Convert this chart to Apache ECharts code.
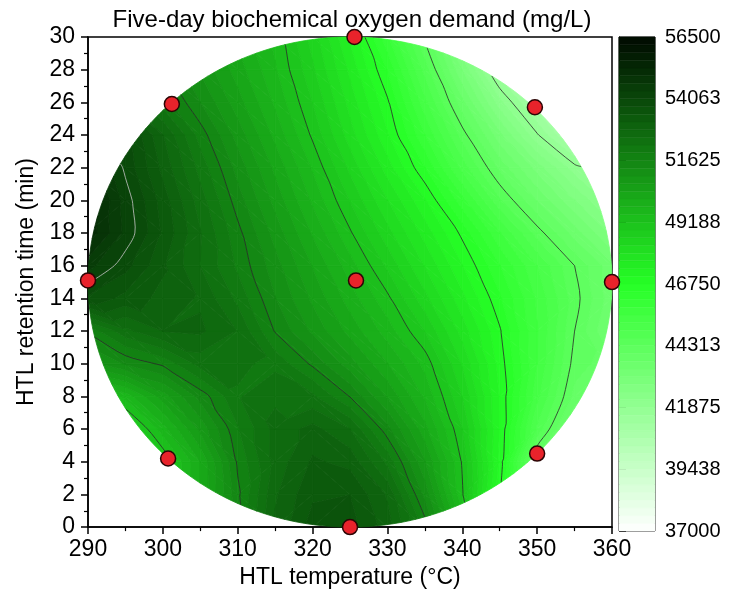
<!DOCTYPE html>
<html>
<head>
<meta charset="utf-8">
<script src="https://cdn.jsdelivr.net/npm/echarts@6/dist/echarts.min.js"></script>
<style>
  html, body { margin: 0; padding: 0; background: #fff; }
  #chart { width: 738px; height: 594px; }
</style>
</head>
<body>
<div id="chart"></div>
<script>
// ---- data ---------------------------------------------------------------
// HTL temperature (°C) of the grid columns
const temperatures = [290, 295, 300, 305, 310, 315, 320, 325, 330, 335, 340, 345, 350, 355, 360];
// HTL retention time (min) of the grid rows
const retentionTimes = [0, 2, 4, 6, 8, 10, 12, 14, 16, 18, 20, 22, 24, 26, 28, 30];
// BOD5 (mg/L): one row per retention time, one column per temperature
const bod5 = [
  [42000, 45000, 47800, 49800, 51400, 52900, 53600, 53600, 53000, 51800, 49800, 47000, 44000, 41000, 38500],
  [44000, 46500, 48800, 50100, 51550, 52800, 53400, 53450, 52800, 51225, 49230, 46800, 44000, 41500, 39500],
  [46000, 47600, 48860, 50110, 51680, 52650, 53200, 53050, 52150, 50740, 49150, 46970, 43800, 42000, 41000],
  [47500, 48500, 49663, 50793, 51900, 52650, 52950, 52550, 51430, 50210, 48893, 47048, 44856, 43200, 42500],
  [48700, 49600, 50550, 51440, 52200, 52480, 52300, 51610, 50676, 49746, 48572, 47032, 45323, 43900, 43100],
  [50900, 51350, 51700, 52350, 52300, 52150, 51560, 50842, 50117, 49392, 48245, 46935, 45533, 44173, 43800],
  [51700, 52450, 52850, 52900, 52520, 51599, 50949, 50299, 49649, 48876, 47836, 46796, 45555, 44313, 43300],
  [53700, 53350, 53050, 52800, 52150, 51335, 50645, 49955, 49265, 48374, 47449, 46504, 45479, 44454, 43500],
  [54500, 53875, 53205, 52535, 51865, 51142, 50387, 49632, 48820, 47946, 47071, 46158, 45233, 44313, 43480],
  [55200, 54286, 53401, 52564, 51725, 50895, 50065, 49235, 48389, 47539, 46663, 45573, 44483, 43565, 42700],
  [55300, 54230, 53305, 52380, 51469, 50604, 49739, 48868, 47978, 47088, 45953, 44668, 43687, 42817, 42000],
  [55000, 53988, 53053, 52118, 51205, 50330, 49455, 48498, 47513, 46455, 45115, 43929, 42969, 42009, 41500],
  [54500, 53900, 52860, 51795, 50890, 50015, 49127, 48112, 47097, 45846, 44476, 43195, 41925, 40700, 40600],
  [53400, 52900, 52100, 51325, 50535, 49740, 48880, 47850, 46810, 45320, 43800, 42300, 41000, 40500, 40200],
  [53110, 52500, 51680, 50970, 50255, 49530, 48640, 47590, 46425, 44800, 43080, 41310, 39800, 38500, 37500],
  [52600, 51960, 51320, 50680, 50040, 49400, 48440, 47310, 45900, 44230, 42270, 40800, 39500, 38500, 37500]
];
// experimental design runs (temperature °C, retention time min)
const runTemperatures = [290, 300.7, 301.2, 325, 325.8, 325.6, 349.7, 350, 360];
const runTimes = [15.1, 4.2, 25.9, 0, 15.1, 30, 25.7, 4.5, 15];
// design region: centre and half-ranges (°C, min)
const regionCenter = [325, 15];
const regionHalfRange = [35, 15];
// major contour levels, also the colour-bar ticks
const majorLevels = [37000, 39437.5, 41875, 44312.5, 46750, 49187.5, 51625, 54062.5, 56500];
const colorbarLabels = ['37000', '39438', '41875', '44313', '46750', '49188', '51625', '54063', '56500'];

// ---- colour scale ---------------------------------------------------------
const SUB_BANDS = 8;                        // filled bands per major interval
const levelMin = majorLevels[0];
const levelMax = majorLevels[majorLevels.length - 1];
const bandStep = (majorLevels[1] - majorLevels[0]) / SUB_BANDS;
const bandCount = Math.round((levelMax - levelMin) / bandStep);
const palette = [
  [37000, [255, 255, 255]],
  [46750, [38, 255, 38]],
  [56500, [0, 10, 0]]
];
function colorOf(v) {
  let c = palette[palette.length - 1][1];
  if (v <= palette[0][0]) c = palette[0][1];
  else {
    for (let i = 1; i < palette.length; i++) {
      if (v <= palette[i][0]) {
        const t = (v - palette[i - 1][0]) / (palette[i][0] - palette[i - 1][0]);
        const a = palette[i - 1][1], b = palette[i][1];
        c = a.map((x, k) => Math.round(x + (b[k] - x) * t));
        break;
      }
    }
  }
  return 'rgb(' + c.join(',') + ')';
}
function bandColor(k) { return colorOf(levelMin + (k + 0.5) * bandStep); }

// ---- geometry helpers -----------------------------------------------------
const [cx, cy] = regionCenter, [rx, ry] = regionHalfRange;
const toUnit = p => [(p[0] - cx) / rx, (p[1] - cy) / ry];
const RING = 240;
const ring = [];
for (let k = 0; k < RING; k++) {
  const a = 2 * Math.PI * k / RING;
  ring.push([Math.cos(a), Math.sin(a)]);
}

// point where a level crosses the edge a-b (endpoints ordered so shared edges agree)
function edgeCrossing(a, b, level) {
  if (a[0] > b[0] || (a[0] === b[0] && a[1] > b[1])) { const t = a; a = b; b = t; }
  const t = (level - a[2]) / (b[2] - a[2]);
  return [a[0] + t * (b[0] - a[0]), a[1] + t * (b[1] - a[1]), level];
}

// keep the part of a polygon (points [x, y, v]) above / below a level
function clipByValue(poly, level, keepAbove) {
  const out = [];
  for (let i = 0; i < poly.length; i++) {
    const a = poly[i], b = poly[(i + 1) % poly.length];
    const ina = keepAbove ? a[2] >= level : a[2] <= level;
    const inb = keepAbove ? b[2] >= level : b[2] <= level;
    if (ina) out.push(a);
    if (ina !== inb) out.push(edgeCrossing(a, b, level));
  }
  return out;
}

// clip a polygon to the circular design region
function clipToRegion(poly) {
  let pts = poly.map(toUnit);
  if (pts.every(p => p[0] * p[0] + p[1] * p[1] <= 0.999)) return poly.map(p => [p[0], p[1]]);
  for (let k = 0; k < RING && pts.length; k++) {
    const a = ring[k], b = ring[(k + 1) % RING];
    const ex = b[0] - a[0], ey = b[1] - a[1];
    const side = p => ex * (p[1] - a[1]) - ey * (p[0] - a[0]);
    const out = [];
    for (let i = 0; i < pts.length; i++) {
      const p = pts[i], q = pts[(i + 1) % pts.length];
      const sp = side(p), sq = side(q);
      if (sp >= 0) out.push(p);
      if ((sp >= 0) !== (sq >= 0)) {
        const t = sp / (sp - sq);
        out.push([p[0] + t * (q[0] - p[0]), p[1] + t * (q[1] - p[1])]);
      }
    }
    pts = out;
  }
  return pts.map(p => [cx + p[0] * rx, cy + p[1] * ry]);
}

// clip a segment to the design region
function clipSegment(a, b) {
  const na = toUnit(a), nb = toUnit(b);
  const dx = nb[0] - na[0], dy = nb[1] - na[1];
  const A = dx * dx + dy * dy;
  const B = 2 * (na[0] * dx + na[1] * dy);
  const C = na[0] * na[0] + na[1] * na[1] - 1;
  if (C <= 0 && (nb[0] * nb[0] + nb[1] * nb[1]) <= 1) return [a, b];
  const disc = B * B - 4 * A * C;
  if (A === 0 || disc <= 0) return null;
  const s = Math.sqrt(disc);
  const t0 = Math.max(0, (-B - s) / (2 * A));
  const t1 = Math.min(1, (-B + s) / (2 * A));
  if (t0 >= t1) return null;
  const at = t => [a[0] + t * (b[0] - a[0]), a[1] + t * (b[1] - a[1])];
  return [at(t0), at(t1)];
}

// ---- filled bands and contour segments from the grid ----------------------
const fillPolys = [];
const innerLevels = majorLevels.slice(1, -1);
const segsByLevel = innerLevels.map(() => []);

for (let j = 0; j < retentionTimes.length - 1; j++) {
  for (let i = 0; i < temperatures.length - 1; i++) {
    const x0 = temperatures[i], x1 = temperatures[i + 1];
    const y0 = retentionTimes[j], y1 = retentionTimes[j + 1];
    // skip cells that lie completely outside the region
    const nx = Math.min(Math.max(cx, x0), x1), ny = Math.min(Math.max(cy, y0), y1);
    const nu = toUnit([nx, ny]);
    if (nu[0] * nu[0] + nu[1] * nu[1] > 1) continue;
    const p00 = [x0, y0, bod5[j][i]], p10 = [x1, y0, bod5[j][i + 1]];
    const p01 = [x0, y1, bod5[j + 1][i]], p11 = [x1, y1, bod5[j + 1][i + 1]];
    const tris = Math.abs(p00[2] - p11[2]) <= Math.abs(p10[2] - p01[2])
      ? [[p00, p10, p11], [p00, p11, p01]]
      : [[p00, p10, p01], [p10, p11, p01]];
    tris.forEach(tri => {
      const vs = tri.map(p => p[2]);
      const vmin = Math.min(...vs), vmax = Math.max(...vs);
      const kLo = Math.max(0, Math.floor((vmin - levelMin) / bandStep));
      const kHi = Math.min(bandCount - 1, Math.floor((vmax - levelMin) / bandStep));
      for (let k = kLo; k <= kHi; k++) {
        const lo = levelMin + k * bandStep, hi = lo + bandStep;
        let poly = clipByValue(tri, lo, true);
        if (poly.length < 3) continue;
        poly = clipByValue(poly, hi, false);
        if (poly.length < 3) continue;
        const pts = clipToRegion(poly);
        if (pts.length >= 3) fillPolys.push({ band: k, pts });
      }
      innerLevels.forEach((L, li) => {
        const hits = [];
        for (let e = 0; e < 3; e++) {
          const a = tri[e], b = tri[(e + 1) % 3];
          if ((a[2] < L) !== (b[2] < L)) hits.push(edgeCrossing(a, b, L));
        }
        if (hits.length === 2) {
          const seg = clipSegment(hits[0], hits[1]);
          if (seg) segsByLevel[li].push(seg);
        }
      });
    });
  }
}

// join the segments of each level into continuous lines
const keyOf = p => p[0].toFixed(4) + ',' + p[1].toFixed(4);
function chainSegments(segs) {
  const ends = new Map();
  segs.forEach((s, i) => [0, 1].forEach(e => {
    const k = keyOf(s[e]);
    if (!ends.has(k)) ends.set(k, []);
    ends.get(k).push(i);
  }));
  const used = new Array(segs.length).fill(false);
  const lines = [];
  const grow = (line, atEnd) => {
    for (;;) {
      const tip = atEnd ? line[line.length - 1] : line[0];
      const next = (ends.get(keyOf(tip)) || []).find(i => !used[i]);
      if (next === undefined) return;
      used[next] = true;
      const s = segs[next];
      const other = keyOf(s[0]) === keyOf(tip) ? s[1] : s[0];
      if (atEnd) line.push(other); else line.unshift(other);
    }
  };
  segs.forEach((s, i) => {
    if (used[i]) return;
    used[i] = true;
    const line = [s[0], s[1]];
    grow(line, true);
    grow(line, false);
    lines.push(line);
  });
  return lines;
}
const contourLines = [];
segsByLevel.forEach((segs, li) => chainSegments(segs).forEach(pts => contourLines.push({ level: innerLevels[li], pts })));

// ---- chart ------------------------------------------------------------------
const FONT = '"Liberation Sans", Arial, Helvetica, sans-serif';
const chart = echarts.init(document.getElementById('chart'), null, { renderer: 'canvas' });

chart.setOption({
  animation: false,
  backgroundColor: '#fff',
  graphic: [{
    type: 'text',
    x: 352, y: 20,
    style: {
      text: 'Five-day biochemical oxygen demand (mg/L)',
      font: '24px ' + FONT,
      fill: '#000',
      align: 'center', verticalAlign: 'middle',
      textAlign: 'center', textVerticalAlign: 'middle'
    }
  }],
  grid: [
    { left: 88, right: 126, top: 37, bottom: 63, show: true, borderColor: '#000', borderWidth: 1.5, backgroundColor: 'transparent' },
    { left: 619, width: 36, top: 37, bottom: 63, show: true, borderColor: '#000', borderWidth: 1, backgroundColor: 'transparent' }
  ],
  xAxis: [{
    gridIndex: 0, type: 'value', min: 290, max: 360, interval: 10,
    name: 'HTL temperature (°C)', nameLocation: 'middle', nameGap: 35,
    nameTextStyle: { fontSize: 23, fontFamily: FONT, color: '#000' },
    axisLine: { show: true, lineStyle: { color: '#000', width: 1.5 } },
    axisTick: { show: true, inside: false, length: 7, lineStyle: { color: '#000', width: 1.5 } },
    minorTick: { show: true, splitNumber: 2, length: 4, lineStyle: { color: '#000', width: 1.2 } },
    axisLabel: { fontSize: 23, fontFamily: FONT, color: '#000', margin: 11 },
    splitLine: { show: false }
  }, {
    gridIndex: 1, type: 'value', min: 0, max: 1, show: false
  }],
  yAxis: [{
    gridIndex: 0, type: 'value', min: 0, max: 30, interval: 2,
    name: 'HTL retention time (min)', nameLocation: 'middle', nameGap: 50,
    nameTextStyle: { fontSize: 23, fontFamily: FONT, color: '#000' },
    axisLine: { show: true, lineStyle: { color: '#000', width: 1.5 } },
    axisTick: { show: true, inside: false, length: 7, lineStyle: { color: '#000', width: 1.5 } },
    minorTick: { show: true, splitNumber: 2, length: 4, lineStyle: { color: '#000', width: 1.2 } },
    axisLabel: { fontSize: 23, fontFamily: FONT, color: '#000', margin: 13 },
    splitLine: { show: false }
  }, {
    gridIndex: 1, type: 'value', min: 0, max: majorLevels.length - 1, interval: 1, position: 'right',
    axisLine: { show: true, lineStyle: { color: '#000', width: 1 } },
    axisTick: { show: true, inside: false, length: 7, lineStyle: { color: '#000', width: 1 } },
    axisLabel: { fontSize: 20, fontFamily: FONT, color: '#000', margin: 10,
      formatter: v => colorbarLabels[Math.round(v)] },
    splitLine: { show: false }
  }],
  series: [
    {
      // filled contour bands
      type: 'custom', xAxisIndex: 0, yAxisIndex: 0,
      silent: true, clip: false, progressive: 0, z: 2,
      data: fillPolys.map((p, i) => [p.pts[0][0], p.pts[0][1], i]),
      renderItem: (params, api) => {
        const p = fillPolys[api.value(2)];
        const c = bandColor(p.band);
        return {
          type: 'polygon',
          shape: { points: p.pts.map(q => api.coord(q)) },
          style: { fill: c, stroke: c, lineWidth: 0.8 }
        };
      }
    },
    {
      // contour lines on the major levels
      type: 'custom', xAxisIndex: 0, yAxisIndex: 0,
      silent: true, clip: false, progressive: 0, z: 3,
      data: contourLines.map((l, i) => [l.pts[0][0], l.pts[0][1], i]),
      renderItem: (params, api) => {
        const l = contourLines[api.value(2)];
        return {
          type: 'polyline',
          shape: { points: l.pts.map(q => api.coord([q[0], q[1]])), smooth: 0.3 },
          style: { stroke: l.level > 54000 ? '#c4c4c4' : '#2a2a2a', lineWidth: 0.8, fill: null, lineJoin: 'round' }
        };
      }
    },
    {
      // design runs
      type: 'scatter', xAxisIndex: 0, yAxisIndex: 0, clip: false, z: 5,
      symbol: 'circle', symbolSize: 15,
      itemStyle: { color: '#e8232b', borderColor: '#2b0505', borderWidth: 1.5, opacity: 1 },
      data: runTemperatures.map((t, i) => [t, runTimes[i]])
    },
    {
      // colour bar
      type: 'custom', xAxisIndex: 1, yAxisIndex: 1,
      silent: true, clip: false, progressive: 0, z: 2,
      data: Array.from({ length: bandCount }, (_, k) => [0, k / SUB_BANDS, k]),
      renderItem: (params, api) => {
        const k = api.value(2);
        const p0 = api.coord([0, k / SUB_BANDS]);
        const p1 = api.coord([1, (k + 1) / SUB_BANDS]);
        const c = bandColor(k);
        return {
          type: 'rect',
          shape: { x: p0[0], y: p1[1], width: p1[0] - p0[0], height: p0[1] - p1[1] },
          style: { fill: c, stroke: c, lineWidth: 0.5 }
        };
      }
    }
  ]
});
</script>
</body>
</html>
